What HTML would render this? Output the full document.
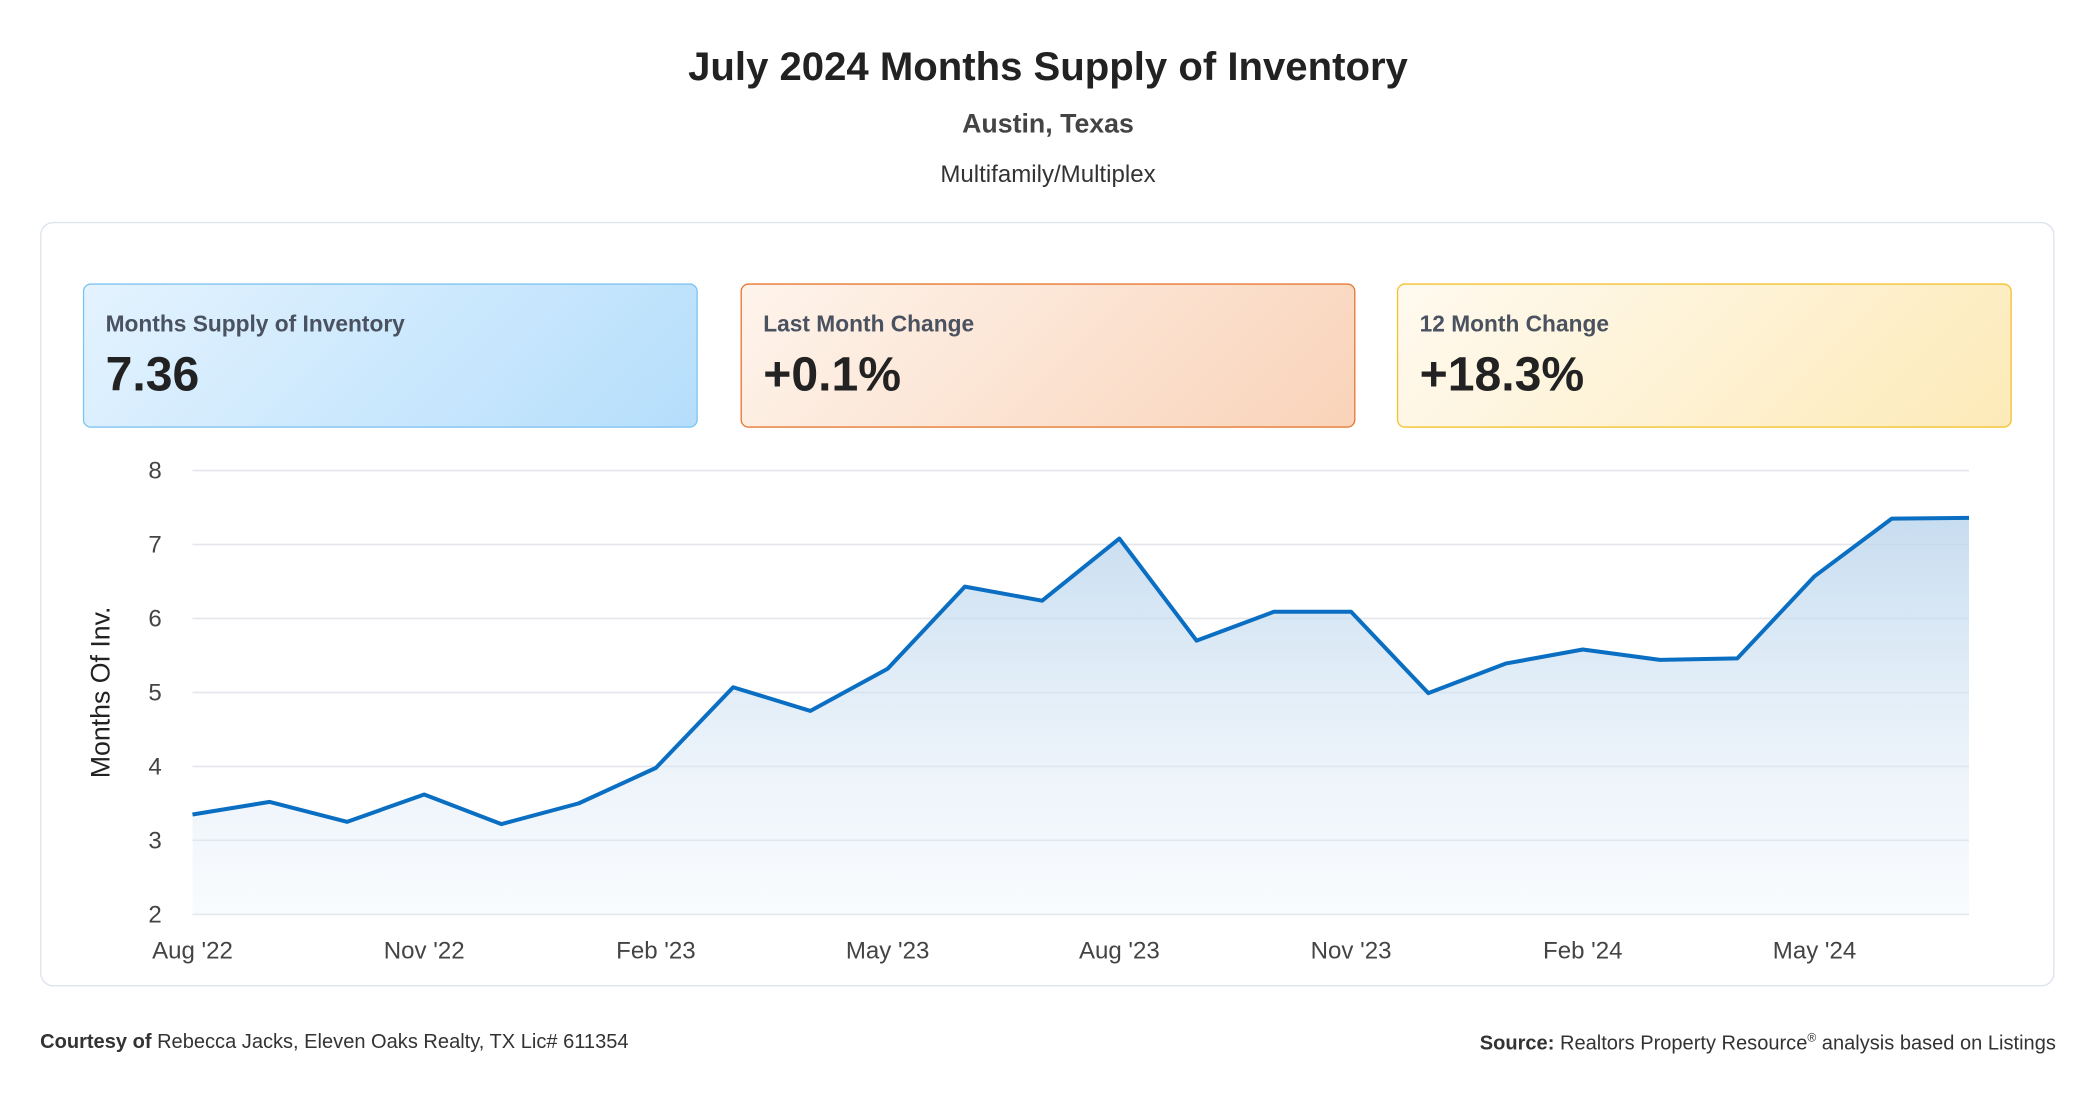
<!DOCTYPE html>
<html><head><meta charset="utf-8"><style>
html,body{margin:0;padding:0;background:#fff;width:2096px;height:1100px;overflow:hidden}
#wrap{width:1568px;height:823px;transform:scale(1.33673);transform-origin:0 0;position:relative;font-family:"Liberation Sans",sans-serif;color:#222}
.t{position:absolute;left:0;width:1568px;text-align:center}
.card{position:absolute;top:212px;width:460px;height:108px;border-radius:6px;box-sizing:border-box}
.card .l{position:absolute;left:16px;top:20px;font-size:17px;font-weight:bold;color:#4a5260}
.card .v{position:absolute;left:16px;top:46px;font-size:36px;font-weight:bold;color:#222}
</style></head><body>
<div id="wrap">
<div class="t" style="top:34px;font-size:30px;font-weight:bold">July 2024 Months Supply of Inventory</div>
<div class="t" style="top:82px;font-size:20px;font-weight:bold;color:#444">Austin, Texas</div>
<div class="t" style="top:120px;font-size:18px;color:#333">Multifamily/Multiplex</div>
<div style="position:absolute;left:30px;top:166px;width:1507px;height:572px;border:1px solid #dde3ec;border-radius:10px;box-sizing:border-box"></div>
<div class="card" style="left:62px;border:1px solid #7cc2f2;background:linear-gradient(135deg,#e4f3fe,#b5defc)"><div class="l">Months Supply of Inventory</div><div class="v">7.36</div></div>
<div class="card" style="left:554px;border:1px solid #e8762e;background:linear-gradient(135deg,#fef4ec,#f9d3b9)"><div class="l">Last Month Change</div><div class="v">+0.1%</div></div>
<div class="card" style="left:1045px;border:1px solid #f3c12c;background:linear-gradient(135deg,#fffaf0,#fdeab8)"><div class="l">12 Month Change</div><div class="v">+18.3%</div></div>
<svg id="c" width="1568" height="823" style="position:absolute;left:0;top:0">
<defs><linearGradient id="g" x1="0" y1="0" x2="0" y2="1"><stop offset="0" stop-color="#b9d4ec" stop-opacity="0.8"/><stop offset="1" stop-color="#eaf2fa" stop-opacity="0.3"/></linearGradient></defs>
<text transform="translate(82,518) rotate(-90)" text-anchor="middle" font-size="20" fill="#222" font-family="Liberation Sans,sans-serif">Months Of Inv.</text>
</svg>
<div style="position:absolute;left:30px;top:771px;font-size:15px;color:#333"><b>Courtesy of</b> Rebecca Jacks, Eleven Oaks Realty, TX Lic# 611354</div>
<div style="position:absolute;right:30px;top:771px;font-size:15px;color:#333"><b>Source:</b> Realtors Property Resource<sup style="font-size:9px">®</sup> analysis based on Listings</div>
</div>
<script>
const values=[3.35,3.52,3.25,3.62,3.22,3.5,3.98,5.07,4.75,5.32,6.43,6.24,7.08,5.7,6.09,6.09,4.99,5.39,5.58,5.44,5.46,6.57,7.35,7.36];
const yTicks=[2,3,4,5,6,7,8];
const xLabels=["Aug '22","Nov '22","Feb '23","May '23","Aug '23","Nov '23","Feb '24","May '24"];
const xLabelIdx=[0,3,6,9,12,15,18,21];
const svg=document.getElementById('c'),NS='http://www.w3.org/2000/svg';
const x0=144,x1=1473,yTop=352,yBot=684,vmin=2,vmax=8;
const X=i=>x0+(x1-x0)*i/(values.length-1);
const Y=v=>yBot-(v-vmin)/(vmax-vmin)*(yBot-yTop);
function mk(t,a){const e=document.createElementNS(NS,t);for(const k in a)e.setAttribute(k,a[k]);svg.appendChild(e);return e;}
yTicks.forEach(v=>{
 const l=mk('line',{x1:x0,x2:x1,y1:Y(v),y2:Y(v),stroke:'#e3e6ea','stroke-width':1.2});
 
 
 const t=mk('text',{x:121,y:Y(v)+6,'text-anchor':'end','font-size':18,fill:'#444','font-family':'Liberation Sans,sans-serif'});
 t.textContent=v;
 
 
});
xLabels.forEach((s,j)=>{
 const t=mk('text',{x:X(xLabelIdx[j]),y:717,'text-anchor':'middle','font-size':18,fill:'#444','font-family':'Liberation Sans,sans-serif'});
 t.textContent=s;
 
 
});
const pts=values.map((v,i)=>X(i)+','+Y(v)).join(' ');
const a=mk('polygon',{points:x0+','+yBot+' '+pts+' '+x1+','+yBot,fill:'url(#g)'});


const p=mk('polyline',{points:pts,fill:'none',stroke:'#0a6fc2','stroke-width':3,'stroke-linejoin':'round'});


</script>
</body></html>
